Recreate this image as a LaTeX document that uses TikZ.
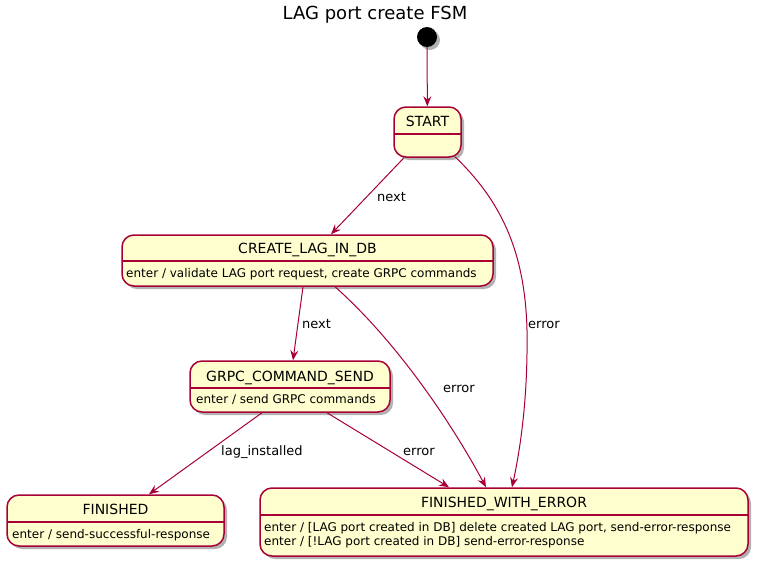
\documentclass[tikz,border=0pt]{standalone}
\usepackage{fontspec}
\setmainfont{DejaVu Sans}
\usetikzlibrary{arrows.meta,shadows,calc}
\definecolor{pfill}{HTML}{FEFECE}
\definecolor{pline}{HTML}{A80036}
\tikzset{
  statebox/.style={draw=pline, line width=1.5pt, fill=pfill, rounded corners=12pt,
    drop shadow={shadow xshift=3pt, shadow yshift=-3pt, opacity=0.3, fill=black},
    inner sep=0pt, rectangle},
  sepline/.style={draw=pline, line width=1.5pt},
  stitle/.style={anchor=base, inner sep=0pt, font=\fontsize{14}{16}\selectfont},
  sbody/.style={anchor=base west, inner sep=0pt, font=\fontsize{12}{14}\selectfont, align=left},
  edge/.style={draw=pline, line width=1pt, -{Stealth[length=10pt,width=8pt,inset=3.5pt]}},
  elabel/.style={anchor=base west, inner sep=0pt, font=\fontsize{13}{15}\selectfont},
}
\begin{document}
\begin{tikzpicture}[x=1pt,y=-1pt]
\useasboundingbox[fill=white] (0,0) rectangle (761,566);
% title
\node[anchor=base, inner sep=0pt, font=\fontsize{18}{20}\selectfont] (title) at (375,19) {LAG port create FSM};
% initial
\node[circle, fill=black, minimum size=20pt, inner sep=0pt,
  drop shadow={shadow xshift=3pt, shadow yshift=-3pt, opacity=0.3, fill=black}] (init) at (427,37) {};
% states
\node[statebox, minimum width=67pt, minimum height=50pt] (start) at (427.5,132) {};
\draw[sepline] (394,134) -- (461,134);
\node[stitle] (startT) at (427.5,126) {START};

\node[statebox, minimum width=371pt, minimum height=51pt] (create) at (307.5,260.5) {};
\draw[sepline] (122,261) -- (493,261);
\node[stitle] (createT) at (307.5,253) {CREATE\_LAG\_IN\_DB};
\node[sbody] (createB) at (126,277.5) {enter / validate LAG port request, create GRPC commands};

\node[statebox, minimum width=200pt, minimum height=51pt] (grpc) at (290,386.5) {};
\draw[sepline] (190,388) -- (390,388);
\node[stitle] (grpcT) at (290,381) {GRPC\_COMMAND\_SEND};
\node[sbody] (grpcB) at (196,403.5) {enter / send GRPC commands};

\node[statebox, minimum width=217pt, minimum height=51pt] (fin) at (115.5,520.5) {};
\draw[sepline] (7,522) -- (224,522);
\node[stitle] (finT) at (115.5,514) {FINISHED};
\node[sbody] (finB) at (12,538.5) {enter / send-successful-response};

\node[statebox, minimum width=488pt, minimum height=68pt] (fwe) at (504,522) {};
\draw[sepline] (260,515) -- (748,515);
\node[stitle] (fweT) at (504,507) {FINISHED\_WITH\_ERROR};
\node[sbody] (fweB1) at (264,531.5) {enter / [LAG port created in DB] delete created LAG port, send-error-response};
\node[sbody] (fweB2) at (264,545.5) {enter / [!LAG port created in DB] send-error-response};

% edges
\draw[edge] (init) -- (start);
\draw[edge] ($(start.south)+(-23.5,0)$) -- ($(create.north)+(23.5,0)$);
\draw[edge] ($(start.south)+(27.5,-1)$) .. controls (500,200) and (525,250) .. (527,330)
   .. controls (528,400) and (520,450) .. ($(fwe.north)+(8,0)$);
\draw[edge] ($(create.south)+(-4.5,0)$) -- ($(grpc.north)+(3,0)$);
\draw[edge] ($(create.south)+(27.5,0)$) .. controls (395,340) and (450,420) .. ($(fwe.north)+(-18,0)$);
\draw[edge] ($(grpc.south)+(-28,0)$) -- ($(fin.north)+(33.5,0)$);
\draw[edge] ($(grpc.south)+(37,0)$) -- ($(fwe.north)+(-55,0)$);

% labels
\node[elabel] (l1) at (377,201) {next};
\node[elabel] (l2) at (528,328) {error};
\node[elabel] (l3) at (302,328) {next};
\node[elabel] (l4) at (443,392) {error};
\node[elabel] (l5) at (221,455) {lag\_installed};
\node[elabel] (l6) at (403,455) {error};
\end{tikzpicture}
\end{document}
